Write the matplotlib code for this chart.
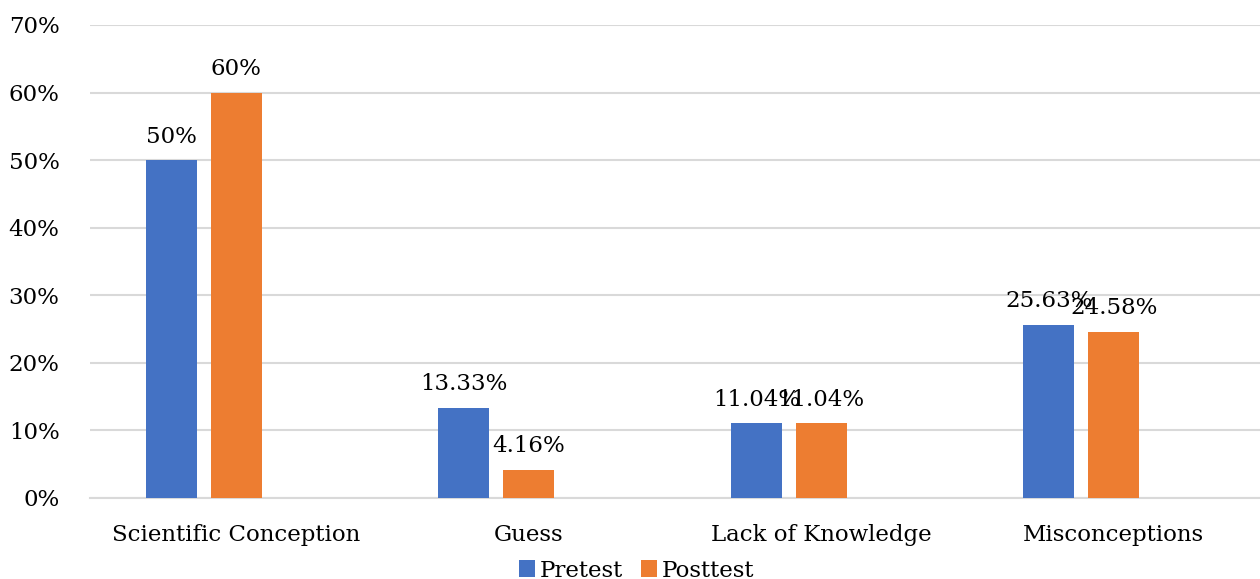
import matplotlib
matplotlib.use("Agg")
import matplotlib.pyplot as plt
import numpy as np

categories = ["Scientific Conception", "Guess", "Lack of Knowledge", "Misconceptions"]
pretest = [50, 13.33, 11.04, 25.63]
posttest = [60, 4.16, 11.04, 24.58]
pre_labels = ["50%", "13.33%", "11.04%", "25.63%"]
post_labels = ["60%", "4.16%", "11.04%", "24.58%"]
yticks = [0, 10, 20, 30, 40, 50, 60, 70]

plt.rcParams['font.family'] = ['DejaVu Serif']

fig = plt.figure(figsize=(12.6, 5.79), dpi=100)
ax = fig.add_axes([90/1260, 1-498/579, 1-90/1260, (498-25)/579])

x = np.arange(len(categories))
w = 0.174
off = 0.222
b1 = ax.bar(x - off, pretest, w, color="#4472C4", label="Pretest", zorder=3)
b2 = ax.bar(x, posttest, w, color="#ED7D31", label="Posttest", zorder=3)

for rect, lab in zip(b1, pre_labels):
    ax.annotate(lab, (rect.get_x() + rect.get_width()/2, rect.get_height()),
                xytext=(0, 9), textcoords="offset points", ha="center", va="bottom", fontsize=16.5)
for rect, lab in zip(b2, post_labels):
    ax.annotate(lab, (rect.get_x() + rect.get_width()/2, rect.get_height()),
                xytext=(0, 9), textcoords="offset points", ha="center", va="bottom", fontsize=16.5)

ax.set_xlim(-0.5, 3.5)
ax.set_ylim(0, 70)
ax.set_yticks(yticks)
ax.set_yticklabels([f"{t}%" for t in yticks], fontsize=16.5)
ax.set_xticks(x)
ax.set_xticklabels(categories, fontsize=16.5)
ax.tick_params(axis='both', length=0)
ax.tick_params(axis='y', pad=22)
ax.tick_params(axis='x', pad=19)
ax.yaxis.grid(True, color="#d9d9d9", linewidth=1.5, zorder=0)
for s in ["top", "right", "left"]:
    ax.spines[s].set_visible(False)
ax.spines["bottom"].set_color("#d9d9d9")
ax.spines["bottom"].set_linewidth(1.5)

fig.legend(handles=[b1, b2], loc="lower center", bbox_to_anchor=(0.505, -0.04), ncol=2,
           frameon=False, fontsize=16.5, handlelength=0.7, handleheight=0.7,
           handletextpad=0.2, columnspacing=0.8)

fig.savefig("out.png", dpi=100)
